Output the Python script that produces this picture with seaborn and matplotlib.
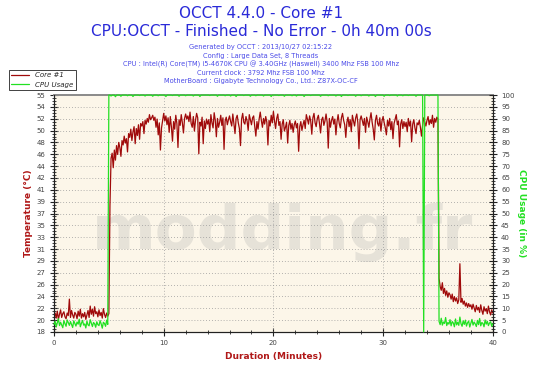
import numpy as np
import matplotlib
matplotlib.use("Agg")
import matplotlib.pyplot as plt
from matplotlib.ticker import MultipleLocator, AutoMinorLocator
import seaborn as sns
import pandas as pd

# one sample every 0.1 minute, 0.0 -> 40.0
step = 0.1

temp = [
    20.5, 21.0, 20.2, 21.3, 20.0, 20.8, 21.5, 20.3, 20.9, 21.2, 20.4, 20.1, 21.0, 20.6, 23.2, 20.3, 21.4, 20.7, 20.2, 21.1,
    20.8, 20.1, 21.3, 20.5, 21.6, 20.2, 20.9, 20.4, 21.1, 20.0, 20.7, 21.4, 20.3, 22.1, 20.8, 21.6, 20.5, 22.0, 20.9, 21.2,
    20.4, 21.5, 20.6, 21.1, 20.2, 21.7, 20.8, 20.3, 21.0, 20.5, 20.9, 38.0, 45.5, 46.3, 44.0, 46.8, 45.2, 47.5, 46.1, 48.0,
    47.2, 45.8, 48.3, 47.6, 49.0, 47.9, 48.6, 46.5, 49.4, 48.8, 50.1, 48.3, 49.7, 50.5, 47.8, 50.2, 49.1, 50.8, 48.5, 51.0,
    50.6, 51.3, 49.4, 51.5, 50.9, 51.8, 51.2, 52.4, 51.6, 51.9, 52.3, 51.5, 52.0, 50.4, 51.7, 49.2, 51.1, 46.8, 50.3, 51.5,
    52.6, 51.4, 52.2, 50.8, 51.9, 49.6, 52.1, 50.5, 48.2, 51.3, 50.1, 52.3, 51.0, 47.2, 51.6, 50.7, 52.4, 51.1, 49.5, 51.8,
    52.5, 51.7, 52.2, 51.3, 52.8, 51.0, 50.4, 52.1, 49.8, 51.5, 52.6, 51.9, 46.2, 51.2, 50.6, 52.0, 47.8, 51.4, 50.2, 51.7,
    50.9, 51.6, 49.7, 52.4, 51.1, 50.3, 52.7, 51.5, 48.9, 51.8, 50.4, 51.2, 52.3, 50.7, 51.9, 46.9, 51.4, 52.0, 50.8, 51.6,
    52.2, 51.3, 50.6, 52.5, 51.0, 49.4, 51.8, 52.3, 51.1, 50.2, 47.5, 51.7, 52.6, 51.2, 50.9, 52.1, 51.4, 49.9, 52.4, 51.6,
    50.8, 51.9, 52.2, 50.5, 49.0, 51.3, 50.1, 51.7, 52.8, 51.5, 50.4, 51.8, 50.9, 52.1, 51.2, 47.6, 51.5, 50.6, 52.3, 51.1,
    52.9, 51.4, 50.2, 51.8, 52.5, 50.7, 51.3, 48.5, 50.9, 51.6, 49.8, 50.4, 51.2, 47.9, 50.7, 51.5, 50.1, 51.0, 49.6, 50.8,
    51.4, 50.3, 51.0, 46.6, 50.5, 51.3, 49.9, 50.8, 51.5, 50.2, 52.4, 51.7, 50.9, 52.2, 51.4, 49.3, 51.9, 52.6, 51.1, 50.5,
    51.8, 52.3, 51.0, 49.5, 51.6, 52.0, 50.7, 51.4, 52.5, 51.2, 47.1, 51.8, 50.4, 51.5, 52.1, 50.9, 51.7, 49.2, 51.3, 52.4,
    51.0, 50.3, 51.9, 52.6, 51.5, 50.8, 48.8, 51.2, 52.0, 50.5, 51.6, 49.7, 52.3, 51.4, 50.6, 51.9, 52.5, 51.1, 47.0, 51.6,
    52.2, 51.5, 50.7, 51.8, 49.6, 52.0, 51.3, 50.4, 51.7, 52.7, 51.2, 50.1, 48.4, 51.5, 52.3, 51.0, 50.6, 51.9, 49.8, 51.4,
    52.1, 51.1, 50.3, 49.2, 51.5, 50.6, 51.8, 50.0, 51.3, 48.6, 51.0, 51.7, 52.4, 50.8, 51.4, 47.3, 50.9, 51.6, 50.2, 51.3,
    50.5, 51.2, 49.7, 51.8, 50.6, 51.4, 48.1, 50.9, 51.6, 50.3, 49.4, 51.1, 50.8, 51.5, 50.4, 49.0, 50.7, 51.9, 51.2, 50.6,
    51.5, 52.1, 50.8, 51.6, 51.0, 52.3, 50.4, 51.8, 51.2, 52.0, 51.7, 26.5, 25.2, 24.6, 25.8, 24.1, 24.9, 23.8, 24.5, 23.5,
    24.2, 23.9, 23.2, 24.0, 22.8, 23.6, 22.9, 23.4, 22.5, 23.1, 28.8, 22.7, 23.3, 22.4, 22.9, 22.1, 22.6, 21.9, 22.5, 22.0,
    22.3, 21.6, 22.4, 21.8, 21.2, 22.2, 21.5, 21.9, 21.1, 22.3, 21.4, 20.8, 22.0, 21.3, 21.7, 20.9, 22.1, 21.2, 20.7, 21.5, 21.0,
]

cpu = [
    3.2, 4.5, 2.1, 3.8, 5.6, 2.7, 4.1, 3.0, 1.8, 4.8, 3.5, 2.4, 5.1, 3.9, 2.8, 4.4, 3.1, 1.9, 4.7, 3.6,
    2.5, 4.2, 3.3, 5.4, 2.2, 3.7, 4.9, 2.9, 3.4, 1.7, 4.6, 3.0, 2.6, 5.2, 3.8, 2.3, 4.0, 3.5, 2.0, 4.3,
    3.1, 2.7, 4.8, 3.4, 1.6, 4.1, 3.6, 2.4, 5.0, 3.2, 100, 100, 99.6, 100, 100, 100, 99.3, 100, 100, 100,
    100, 99.5, 100, 100, 100, 100, 100, 99.7, 100, 100, 100, 100, 99.4, 100, 100, 100, 100, 100, 99.8, 100,
    100, 100, 100, 99.6, 100, 100, 100, 100, 100, 100, 99.5, 100, 100, 100, 100, 99.7, 100, 100, 100, 100,
    100, 100, 99.4, 100, 100, 100, 100, 100, 99.8, 100, 100, 100, 100, 100, 99.5, 100, 100, 100, 100, 100,
    99.7, 100, 100, 100, 100, 100, 100, 99.6, 100, 100, 100, 100, 100, 99.4, 100, 100, 100, 100, 100, 100,
    100, 100, 99.8, 100, 100, 100, 100, 100, 100, 99.5, 100, 100, 100, 100, 100, 100, 99.7, 100, 100, 100,
    100, 99.6, 100, 100, 100, 100, 99.4, 100, 100, 100, 100, 100, 100, 99.8, 100, 100, 100, 100, 100, 99.5,
    100, 100, 100, 100, 99.7, 100, 100, 100, 100, 100, 100, 99.6, 100, 100, 100, 100, 100, 100, 99.4, 100,
    100, 100, 100, 100, 100, 99.8, 100, 100, 100, 100, 99.5, 100, 100, 100, 100, 100, 100, 99.7, 100, 100,
    100, 99.6, 100, 100, 100, 100, 100, 100, 99.4, 100, 100, 100, 100, 100, 99.8, 100, 100, 100, 100, 100,
    100, 100, 100, 99.5, 100, 100, 100, 100, 100, 100, 99.7, 100, 100, 100, 100, 100, 100, 99.6, 100, 100,
    100, 100, 99.4, 100, 100, 100, 100, 100, 99.8, 100, 100, 100, 100, 100, 100, 99.5, 100, 100, 100, 100,
    99.7, 100, 100, 100, 100, 100, 100, 99.6, 100, 100, 100, 100, 100, 99.4, 100, 100, 100, 100, 100, 100,
    100, 99.5, 100, 100, 100, 100, 99.8, 100, 100, 100, 100, 100, 100, 99.6, 100, 100, 100, 100, 99.7, 100,
    100, 100, 100, 99.8, 100, 100, 100, 100, 100, 100, 99.5, 100, 100, 100, 100, 100, 100, 0, 100, 100,
    100, 100, 99.7, 100, 100, 100, 100, 100, 100, 100, 100, 4.5, 3.1, 5.8, 2.9, 4.2, 3.6, 6.1, 2.7, 4.0,
    3.3, 5.2, 2.6, 4.4, 3.8, 2.2, 5.5, 3.0, 4.1, 2.8, 6.3, 3.5, 2.4, 4.7, 3.2, 5.0, 2.5, 3.9, 4.6, 2.1,
    3.7, 5.3, 2.9, 4.2, 3.4, 2.3, 4.9, 3.1, 5.7, 2.6, 4.0, 3.6, 2.2, 5.1, 3.3, 4.5, 2.7, 3.8, 4.3, 2.4, 3.5,
]

minutes = np.round(np.arange(len(temp)) * step, 1)
df = pd.DataFrame({"minutes": minutes, "temp": temp, "cpu": cpu})

temp_ticks = [18 + 1.875 * k for k in range(21)]
temp_labels = ["18", "20", "22", "24", "26", "27", "29", "31", "33", "35", "37",
               "39", "41", "42", "44", "46", "48", "50", "52", "54", "55"]
cpu_ticks = list(range(0, 101, 5))

red = "#a00a0a"
green = "#22e022"
title_blue = "#2a2ad8"
sub_blue = "#4a4ae8"

sns.set_style("ticks")
plt.rcParams["font.family"] = ["DejaVu Sans"]

fig = plt.figure(figsize=(5.5, 3.67), dpi=100)
ax = fig.add_axes([0.0982, 0.0954, 0.7978, 0.6456])
ax.set_facecolor("#fcf6e9")

# watermark
ax.text(0.52, 0.42, "modding.fr", transform=ax.transAxes, ha="center", va="center",
        fontsize=44, fontweight="bold", color="#e6e2d8", zorder=0)

sns.lineplot(data=df, x="minutes", y="temp", ax=ax, color=red, linewidth=0.9, zorder=3)

ax.set_xlim(0, 40)
ax.set_ylim(18, 55.5)
ax.set_yticks(temp_ticks)
ax.set_yticklabels(temp_labels)
ax.yaxis.set_minor_locator(AutoMinorLocator(4))
ax.xaxis.set_major_locator(MultipleLocator(10))
ax.xaxis.set_minor_locator(MultipleLocator(2))

for y in temp_ticks[1:-1]:
    ax.axhline(y, color="#9a9a9a", linewidth=0.6, linestyle=(0, (1, 2.5)), zorder=1)
for x in [10, 20, 30]:
    ax.axvline(x, color="#9a9a9a", linewidth=0.6, linestyle=(0, (1, 2.5)), zorder=1)

ax2 = ax.twinx()
sns.lineplot(data=df, x="minutes", y="cpu", ax=ax2, color=green, linewidth=0.9, zorder=3)
ax2.set_ylim(0, 100)
ax2.set_yticks(cpu_ticks)
ax2.yaxis.set_minor_locator(AutoMinorLocator(4))

for a in (ax, ax2):
    a.tick_params(axis="both", which="major", direction="inout", length=6, width=0.8,
                  labelsize=5, labelcolor="#444444", color="#222222", pad=3)
    a.tick_params(axis="both", which="minor", direction="inout", length=3, width=0.6,
                  color="#222222")
    for s in ("left", "right", "bottom"):
        a.spines[s].set_color("#222222")
        a.spines[s].set_linewidth(0.8)
ax.spines["top"].set_color("#8a8a8a")
ax.spines["top"].set_linewidth(1.4)
ax2.spines["top"].set_visible(False)
ax2.get_lines()[0].set_clip_on(False)

ax.set_xlabel("Duration (Minutes)", fontsize=6.5, color="#b01818", fontweight="bold", labelpad=4)
ax.set_ylabel("Temperature (°C)", fontsize=6.5, color="#b01818", fontweight="bold", labelpad=3)
ax2.set_ylabel("CPU Usage (in %)", fontsize=6.5, color=green, fontweight="bold",
               rotation=-90, labelpad=8)

cx = 261 / 550
fig.text(cx, 1 - 13 / 367, "OCCT 4.4.0 - Core #1", ha="center", va="center",
         fontsize=11, color=title_blue)
fig.text(cx, 1 - 32 / 367, "CPU:OCCT - Finished - No Error - 0h 40m 00s", ha="center",
         va="center", fontsize=11, color=title_blue)
subs = [
    "Generated by OCCT : 2013/10/27 02:15:22",
    "Config : Large Data Set, 8 Threads",
    "CPU : Intel(R) Core(TM) i5-4670K CPU @ 3.40GHz (Haswell) 3400 Mhz FSB 100 Mhz",
    "Current clock : 3792 Mhz FSB 100 Mhz",
    "MotherBoard : Gigabyte Technology Co., Ltd.: Z87X-OC-CF",
]
for i, s in enumerate(subs):
    fig.text(cx, 1 - (47.5 + 8.4 * i) / 367, s, ha="center", va="center",
             fontsize=4.8, color=sub_blue)

handles = [ax.get_lines()[0], ax2.get_lines()[0]]
leg = fig.legend(handles, ["Core #1", "CPU Usage"], loc="upper left",
                 bbox_to_anchor=(9 / 550, 1 - 70 / 367),
                 prop={"style": "italic", "size": 5}, frameon=True, fancybox=False,
                 edgecolor="#222222", framealpha=1, handlelength=2.6,
                 borderpad=0.35, labelspacing=0.45, handletextpad=0.8, borderaxespad=0)
leg.get_frame().set_linewidth(0.6)
leg.set_zorder(10)

fig.savefig("out.png", dpi=100, facecolor="white")
